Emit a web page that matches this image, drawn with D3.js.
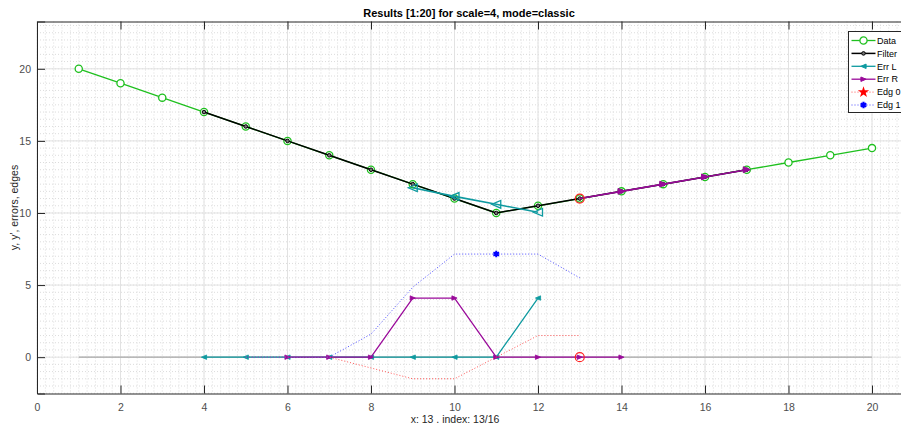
<!DOCTYPE html>
<html>
<head>
<meta charset="utf-8">
<script src="https://cdnjs.cloudflare.com/ajax/libs/d3/7.8.5/d3.min.js"></script>
<style>
  body { margin: 0; background: #fff; }
  svg { display: block; font-family: "Liberation Sans", Arial, sans-serif; }
</style>
</head>
<body>
<div class="js-chart"></div>
<script>
// data
const dataX = d3.range(1, 21);
const dataY = [20, 19, 18, 17, 16, 15, 14, 13, 12, 11, 10, 10.5, 11, 11.5, 12, 12.5, 13, 13.5, 14, 14.5];

const filterX = d3.range(4, 18);
const filterY = [17, 16, 15, 14, 13, 12, 11, 10, 10.5, 11, 11.5, 12, 12.5, 13];

const errLUpX = [9, 10, 11, 12];
const errLUpY = [11.75, 11.15, 10.6, 10.05];
const errLX = [4, 5, 6, 7, 8, 9, 10, 11, 12];
const errLY = [0, 0, 0, 0, 0, 0, 0, 0, 4.1];

const errRUpX = [13, 14, 15, 16, 17];
const errRUpY = [11, 11.5, 12, 12.5, 13];
const errRX = [6, 7, 8, 9, 10, 11, 12, 13, 14];
const errRY = [0, 0, 0, 4.1, 4.1, 0, 0, 0, 0];

const edg0X = [5, 6, 7, 8, 9, 10, 11, 12, 13];
const edg0Y = [0, 0, 0, -0.75, -1.5, -1.5, 0, 1.5, 1.5];
const edg1X = [5, 6, 7, 8, 9, 10, 11, 12, 13];
const edg1Y = [0, 0, 0, 1.6, 4.85, 7.15, 7.15, 7.15, 5.5];
const edg1Star = [11, 7.15];

const cursor = [[13, 11], [13, 0]];
const xTicks = d3.range(0, 21, 2);
const yTicks = [0, 5, 10, 15, 20];
const legendNames = ['Data', 'Filter', 'Err L', 'Err R', 'Edg 0', 'Edg 1'];

const W = 901, H = 423;
const padLeft = 37, padTop = 21.5, padBottom = 393.5;

const x = d3.scaleLinear().domain([0, 21]).range([padLeft, padLeft + 21 * 41.75]);
const y = d3.scaleLinear().domain([-2.52, 23.28]).range([padBottom, padTop]);

const green = '#1fc01f', teal = '#0e9aa0', purple = '#9a0a9a';

const svg = d3.select('.js-chart').append('svg').attr('width', W).attr('height', H);

svg.append('defs').append('clipPath').attr('id', 'plot')
  .append('rect').attr('x', padLeft).attr('y', padTop).attr('width', W - padLeft).attr('height', padBottom - padTop);

const grid = svg.append('g');
// minor grid
grid.selectAll('.mx').data(d3.range(0, 21.01, 0.2)).enter().append('line')
  .attr('x1', d => x(d)).attr('x2', d => x(d)).attr('y1', padTop).attr('y2', padBottom)
  .attr('stroke', '#dcdcdc').attr('stroke-width', 1).attr('stroke-dasharray', '1,2');
grid.selectAll('.my').data(d3.range(-2.5, 23.3, 0.5)).enter().append('line')
  .attr('x1', padLeft).attr('x2', W).attr('y1', d => y(d)).attr('y2', d => y(d))
  .attr('stroke', '#dcdcdc').attr('stroke-width', 1).attr('stroke-dasharray', '1,2');
// major grid
grid.selectAll('.gx').data(xTicks).enter().append('line')
  .attr('x1', d => x(d)).attr('x2', d => x(d)).attr('y1', padTop).attr('y2', padBottom)
  .attr('stroke', '#e2e2e2').attr('stroke-width', 1);
grid.selectAll('.gy').data(yTicks).enter().append('line')
  .attr('x1', padLeft).attr('x2', W).attr('y1', d => y(d)).attr('y2', d => y(d))
  .attr('stroke', '#e2e2e2').attr('stroke-width', 1);

// axes
const xAxisB = d3.axisBottom(x).tickValues(xTicks).tickSize(-8).tickPadding(10).tickFormat(d3.format('d'));
const xAxisT = d3.axisTop(x).tickValues(xTicks).tickSize(-8).tickFormat('');
const yAxisL = d3.axisLeft(y).tickValues(yTicks).tickSize(-8).tickPadding(6);

function styleAxis(g) {
  g.select('.domain').attr('stroke', '#262626');
  g.selectAll('.tick line').attr('stroke', '#262626');
  g.selectAll('.tick text').attr('fill', '#4d4d4d').style('font-size', '10.5px');
}
svg.append('g').attr('transform', `translate(0,${padBottom})`).call(xAxisB).call(styleAxis);
svg.append('g').attr('transform', `translate(0,${padTop})`).call(xAxisT).call(styleAxis);
svg.append('g').attr('transform', `translate(${padLeft},0)`).call(yAxisL).call(styleAxis);

const plot = svg.append('g').attr('clip-path', 'url(#plot)');

const line = d3.line().x(d => x(d[0])).y(d => y(d[1]));
const zip = (xs, ys) => xs.map((v, i) => [v, ys[i]]);

function tri(dir, s) {
  // dir: -1 left, 1 right
  return `M${dir * s},0L${-dir * s},${-s * 0.85}L${-dir * s},${s * 0.85}Z`;
}

// baseline
plot.append('path').attr('d', line([[1, 0], [20, 0]]))
  .attr('stroke', '#a8a8a8').attr('stroke-width', 1.2).attr('fill', 'none');

// Data
plot.append('path').attr('d', line(zip(dataX, dataY)))
  .attr('stroke', green).attr('stroke-width', 1.3).attr('fill', 'none');
plot.selectAll('.dm').data(zip(dataX, dataY)).enter().append('circle')
  .attr('cx', d => x(d[0])).attr('cy', d => y(d[1])).attr('r', 3.6)
  .attr('fill', '#fff').attr('stroke', green).attr('stroke-width', 1.3);

// Filter
plot.append('path').attr('d', line(zip(filterX, filterY)))
  .attr('stroke', '#000').attr('stroke-width', 1.5).attr('fill', 'none');
plot.selectAll('.fm').data(zip(filterX, filterY)).enter().append('circle')
  .attr('cx', d => x(d[0])).attr('cy', d => y(d[1])).attr('r', 1.8)
  .attr('fill', '#777').attr('stroke', '#000').attr('stroke-width', 1);

// Err L upper (prediction)
plot.append('path').attr('d', line(zip(errLUpX, errLUpY)))
  .attr('stroke', teal).attr('stroke-width', 1.6).attr('fill', 'none');
plot.selectAll('.lu').data(zip(errLUpX, errLUpY)).enter().append('path')
  .attr('transform', d => `translate(${x(d[0])},${y(d[1])})`).attr('d', tri(-1, 4.5))
  .attr('fill', 'none').attr('stroke', teal).attr('stroke-width', 1.3);

// Err R upper
plot.append('path').attr('d', line(zip(errRUpX, errRUpY)))
  .attr('stroke', purple).attr('stroke-width', 1.6).attr('fill', 'none');
plot.selectAll('.ru').data(zip(errRUpX, errRUpY).slice(1)).enter().append('path')
  .attr('transform', d => `translate(${x(d[0])},${y(d[1])})`).attr('d', tri(1, 3.5))
  .attr('fill', purple).attr('stroke', purple).attr('stroke-width', 1);

// Err L lower
plot.append('path').attr('d', line(zip(errLX, errLY)))
  .attr('stroke', teal).attr('stroke-width', 1.3).attr('fill', 'none');
plot.selectAll('.ll').data(zip(errLX, errLY)).enter().append('path')
  .attr('transform', d => `translate(${x(d[0])},${y(d[1])})`).attr('d', tri(-1, 2.6))
  .attr('fill', teal).attr('stroke', teal).attr('stroke-width', 0.8);

// Err R lower
plot.append('path').attr('d', line(zip(errRX, errRY)))
  .attr('stroke', purple).attr('stroke-width', 1.3).attr('fill', 'none');
plot.selectAll('.rl').data(zip(errRX, errRY)).enter().append('path')
  .attr('transform', d => `translate(${x(d[0])},${y(d[1])})`).attr('d', tri(1, 2.6))
  .attr('fill', purple).attr('stroke', purple).attr('stroke-width', 0.8);

// Edges
plot.append('path').attr('d', line(zip(edg0X, edg0Y)))
  .attr('stroke', '#ff5555').attr('stroke-width', 1).attr('stroke-dasharray', '1,2').attr('fill', 'none');
plot.append('path').attr('d', line(zip(edg1X, edg1Y)))
  .attr('stroke', '#4a4aff').attr('stroke-width', 1).attr('stroke-dasharray', '1,2').attr('fill', 'none');
plot.append('path').attr('transform', `translate(${x(edg1Star[0])},${y(edg1Star[1])})`)
  .attr('d', d3.symbol(d3.symbolAsterisk, 30)()).attr('stroke', '#0000ff').attr('stroke-width', 2).attr('fill', 'none');

// cursor markers
plot.selectAll('.cur').data(cursor).enter().append('circle')
  .attr('cx', d => x(d[0])).attr('cy', d => y(d[1])).attr('r', 4.5)
  .attr('fill', 'none').attr('stroke', '#ff2020').attr('stroke-width', 1.2);

// Legend
const lg = svg.append('g').attr('transform', 'translate(848.5,31.5)');
lg.append('rect').attr('width', 70).attr('height', 81).attr('fill', '#fff').attr('stroke', '#262626').attr('stroke-width', 1);
const rows = lg.selectAll('.row').data(legendNames).enter().append('g')
  .attr('transform', (d, i) => `translate(0,${9 + i * 12.9})`);
rows.append('text').attr('x', 28.5).attr('y', 3.2).text(d => d)
  .style('font-size', '9px').attr('fill', '#000');
const sx0 = 3, sx1 = 27, sm = 15;
const legStyles = [
  { c: green, w: 1.3 }, { c: '#000', w: 1.5 }, { c: teal, w: 1.3 }, { c: purple, w: 1.3 },
  { c: '#ff5555', w: 1, dash: '1,2' }, { c: '#4a4aff', w: 1, dash: '1,2' }
];
rows.append('line').attr('x1', sx0).attr('x2', sx1)
  .attr('stroke', (d, i) => legStyles[i].c).attr('stroke-width', (d, i) => legStyles[i].w)
  .attr('stroke-dasharray', (d, i) => legStyles[i].dash || null);
rows.each(function (d, i) {
  const r = d3.select(this);
  if (i === 0) r.append('circle').attr('cx', sm).attr('r', 3.6).attr('fill', '#fff').attr('stroke', green).attr('stroke-width', 1.3);
  if (i === 1) r.append('circle').attr('cx', sm).attr('r', 1.8).attr('fill', '#777').attr('stroke', '#000');
  if (i === 2) r.append('path').attr('transform', `translate(${sm},0)`).attr('d', tri(-1, 2.6)).attr('fill', teal).attr('stroke', teal);
  if (i === 3) r.append('path').attr('transform', `translate(${sm},0)`).attr('d', tri(1, 2.6)).attr('fill', purple).attr('stroke', purple);
  if (i === 4) r.append('path').attr('transform', `translate(${sm},0)`).attr('d', d3.symbol(d3.symbolStar, 40)()).attr('fill', '#ff0000');
  if (i === 5) r.append('path').attr('transform', `translate(${sm},0)`).attr('d', d3.symbol(d3.symbolAsterisk, 30)()).attr('stroke', '#0000ff').attr('stroke-width', 2.2).attr('fill', 'none');
});

// titles
svg.append('text').attr('x', 469).attr('y', 17).attr('text-anchor', 'middle')
  .style('font-size', '11px').style('font-weight', 'bold').attr('fill', '#000')
  .text('Results [1:20] for scale=4, mode=classic');
svg.append('text').attr('x', 455).attr('y', 422.5).attr('text-anchor', 'middle')
  .style('font-size', '10.5px').attr('fill', '#262626')
  .text('x: 13 , index: 13/16');
svg.append('text').attr('transform', `translate(18,${(padTop + padBottom) / 2}) rotate(-90)`)
  .attr('text-anchor', 'middle').style('font-size', '10.5px').attr('fill', '#262626')
  .text("y, y', errors, edges");
</script>
</body>
</html>
